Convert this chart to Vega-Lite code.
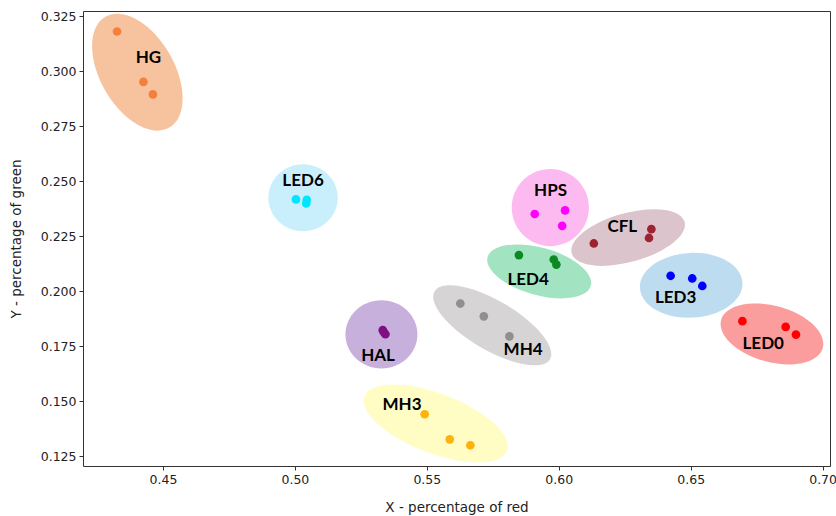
{
  "$schema": "https://vega.github.io/schema/vega-lite/v6.json",
  "autosize": {"type": "none"},
  "padding": {"left": 83, "top": 11, "right": 6, "bottom": 50},
  "width": 747,
  "height": 455,
  "background": "white",
  "config": {
    "view": {"stroke": "#333333", "strokeWidth": 1},
    "axis": {
      "grid": false,
      "domain": false,
      "labelFont": "DejaVu Sans",
      "labelFontSize": 12.5,
      "labelColor": "#222222",
      "titleFont": "DejaVu Sans",
      "titleFontSize": 13.5,
      "titleFontWeight": "normal",
      "titleColor": "#222222",
      "tickColor": "#333333",
      "tickSize": 4,
      "labelPadding": 3
    }
  },
  "datasets": {
    "pts": [
      {"group": "HG", "x": 0.4326, "y": 0.3180},
      {"group": "HG", "x": 0.4426, "y": 0.2951},
      {"group": "HG", "x": 0.4462, "y": 0.2894},
      {"group": "LED6", "x": 0.5004, "y": 0.2417},
      {"group": "LED6", "x": 0.5045, "y": 0.2415},
      {"group": "LED6", "x": 0.5043, "y": 0.2399},
      {"group": "HPS", "x": 0.5909, "y": 0.2351},
      {"group": "HPS", "x": 0.6024, "y": 0.2367},
      {"group": "HPS", "x": 0.6013, "y": 0.2297},
      {"group": "CFL", "x": 0.6133, "y": 0.2217},
      {"group": "CFL", "x": 0.6351, "y": 0.2282},
      {"group": "CFL", "x": 0.6342, "y": 0.2242},
      {"group": "LED4", "x": 0.5849, "y": 0.2164},
      {"group": "LED4", "x": 0.5981, "y": 0.2144},
      {"group": "LED4", "x": 0.5991, "y": 0.2121},
      {"group": "LED3", "x": 0.6424, "y": 0.2070},
      {"group": "LED3", "x": 0.6506, "y": 0.2058},
      {"group": "LED3", "x": 0.6544, "y": 0.2024},
      {"group": "LED0", "x": 0.6696, "y": 0.1864},
      {"group": "LED0", "x": 0.6860, "y": 0.1838},
      {"group": "LED0", "x": 0.6899, "y": 0.1803},
      {"group": "MH4", "x": 0.5627, "y": 0.1944},
      {"group": "MH4", "x": 0.5716, "y": 0.1886},
      {"group": "MH4", "x": 0.5813, "y": 0.1795},
      {"group": "HAL", "x": 0.5333, "y": 0.1823},
      {"group": "HAL", "x": 0.5337, "y": 0.1814},
      {"group": "HAL", "x": 0.5343, "y": 0.1805},
      {"group": "MH3", "x": 0.5492, "y": 0.1441},
      {"group": "MH3", "x": 0.5587, "y": 0.1327},
      {"group": "MH3", "x": 0.5665, "y": 0.1300}
    ],
    "ell": [
      {"group": "HG", "cx": 0.4403, "cy": 0.2995, "lx": 0.4445, "ly": 0.3061},
      {"group": "LED6", "cx": 0.5031, "cy": 0.2425, "lx": 0.5031, "ly": 0.2501},
      {"group": "HPS", "cx": 0.5968, "cy": 0.2380, "lx": 0.5969, "ly": 0.2455},
      {"group": "CFL", "cx": 0.6263, "cy": 0.2244, "lx": 0.6241, "ly": 0.2290},
      {"group": "LED4", "cx": 0.5926, "cy": 0.2090, "lx": 0.5884, "ly": 0.2053},
      {"group": "LED3", "cx": 0.6502, "cy": 0.2027, "lx": 0.6443, "ly": 0.1971},
      {"group": "LED0", "cx": 0.6808, "cy": 0.1806, "lx": 0.6775, "ly": 0.1762},
      {"group": "MH4", "cx": 0.5748, "cy": 0.1845, "lx": 0.5865, "ly": 0.1732},
      {"group": "HAL", "cx": 0.5328, "cy": 0.1804, "lx": 0.5315, "ly": 0.1705},
      {"group": "MH3", "cx": 0.5534, "cy": 0.1399, "lx": 0.5406, "ly": 0.1482}
    ]
  },
  "encoding": {
    "x": {"type": "quantitative", "scale": {"domain": [0.4197, 0.7028], "nice": false, "zero": false},
      "axis": {"title": "X - percentage of red", "values": [0.45, 0.5, 0.55, 0.6, 0.65, 0.7], "format": ".2f", "titlePadding": 15}},
    "y": {"type": "quantitative", "scale": {"domain": [0.1206, 0.3273], "nice": false, "zero": false},
      "axis": {"title": "Y - percentage of green", "values": [0.125, 0.15, 0.175, 0.2, 0.225, 0.25, 0.275, 0.3, 0.325], "format": ".3f", "titlePadding": 17}}
  },
  "layer": [
    {
      "data": {"name": "ell"},
      "encoding": {"x": {"field": "cx", "type": "quantitative"}, "y": {"field": "cy", "type": "quantitative"}},
      "layer": [
        {"transform": [{"filter": "datum.group === 'HG'"}],
         "mark": {"type": "point", "filled": true, "opacity": 1, "fill": "#f7c39f", "strokeWidth": 0, "size": 16384, "angle": 60,
           "shape": "M 1 0 C 1 0.319 0.5523 0.578 0 0.578 C -0.5523 0.578 -1 0.319 -1 0 C -1 -0.319 -0.5523 -0.578 0 -0.578 C 0.5523 -0.578 1 -0.319 1 0 Z"}},
        {"transform": [{"filter": "datum.group === 'LED6'"}],
         "mark": {"type": "point", "filled": true, "opacity": 1, "fill": "#c9effc", "strokeWidth": 0, "size": 4816, "angle": 0,
           "shape": "M 1 0 C 1 0.533 0.5523 0.965 0 0.965 C -0.5523 0.965 -1 0.533 -1 0 C -1 -0.533 -0.5523 -0.965 0 -0.965 C 0.5523 -0.965 1 -0.533 1 0 Z"}},
        {"transform": [{"filter": "datum.group === 'HPS'"}],
         "mark": {"type": "point", "filled": true, "opacity": 1, "fill": "#fdbaf0", "strokeWidth": 0, "size": 5960, "angle": 0,
           "shape": "M 1 0 C 1 0.5523 0.5523 1 0 1 C -0.5523 1 -1 0.5523 -1 0 C -1 -0.5523 -0.5523 -1 0 -1 C 0.5523 -1 1 -0.5523 1 0 Z"}},
        {"transform": [{"filter": "datum.group === 'CFL'"}],
         "mark": {"type": "point", "filled": true, "opacity": 1, "fill": "#dcc4cc", "strokeWidth": 0, "size": 13736, "angle": -15.6,
           "shape": "M 1 0 C 1 0.231 0.5523 0.418 0 0.418 C -0.5523 0.418 -1 0.231 -1 0 C -1 -0.231 -0.5523 -0.418 0 -0.418 C 0.5523 -0.418 1 -0.231 1 0 Z"}},
        {"transform": [{"filter": "datum.group === 'LED4'"}],
         "mark": {"type": "point", "filled": true, "opacity": 1, "fill": "#a2e3c2", "strokeWidth": 0, "size": 11492, "angle": 15.6,
           "shape": "M 1 0 C 1 0.244 0.5523 0.442 0 0.442 C -0.5523 0.442 -1 0.244 -1 0 C -1 -0.244 -0.5523 -0.442 0 -0.442 C 0.5523 -0.442 1 -0.244 1 0 Z"}},
        {"transform": [{"filter": "datum.group === 'LED3'"}],
         "mark": {"type": "point", "filled": true, "opacity": 1, "fill": "#bedcf0", "strokeWidth": 0, "size": 10547, "angle": -3,
           "shape": "M 1 0 C 1 0.348 0.5523 0.63 0 0.63 C -0.5523 0.63 -1 0.348 -1 0 C -1 -0.348 -0.5523 -0.63 0 -0.63 C 0.5523 -0.63 1 -0.348 1 0 Z"}},
        {"transform": [{"filter": "datum.group === 'LED0'"}],
         "mark": {"type": "point", "filled": true, "opacity": 1, "fill": "#fc9d9d", "strokeWidth": 0, "size": 11109, "angle": 15.4,
           "shape": "M 1 0 C 1 0.294 0.5523 0.533 0 0.533 C -0.5523 0.533 -1 0.294 -1 0 C -1 -0.294 -0.5523 -0.533 0 -0.533 C 0.5523 -0.533 1 -0.294 1 0 Z"}},
        {"transform": [{"filter": "datum.group === 'MH4'"}],
         "mark": {"type": "point", "filled": true, "opacity": 1, "fill": "#d6d4d5", "strokeWidth": 0, "size": 17902, "angle": 30.4,
           "shape": "M 1 0 C 1 0.204 0.5523 0.369 0 0.369 C -0.5523 0.369 -1 0.204 -1 0 C -1 -0.204 -0.5523 -0.369 0 -0.369 C 0.5523 -0.369 1 -0.204 1 0 Z"}},
        {"transform": [{"filter": "datum.group === 'HAL'"}],
         "mark": {"type": "point", "filled": true, "opacity": 1, "fill": "#c8b0dc", "strokeWidth": 0, "size": 5184, "angle": 0,
           "shape": "M 1 0 C 1 0.525 0.5523 0.95 0 0.95 C -0.5523 0.95 -1 0.525 -1 0 C -1 -0.525 -0.5523 -0.95 0 -0.95 C 0.5523 -0.95 1 -0.525 1 0 Z"}},
        {"transform": [{"filter": "datum.group === 'MH3'"}],
         "mark": {"type": "point", "filled": true, "opacity": 1, "fill": "#fffcc4", "strokeWidth": 0, "size": 23287, "angle": 21,
           "shape": "M 1 0 C 1 0.216 0.5523 0.39 0 0.39 C -0.5523 0.39 -1 0.216 -1 0 C -1 -0.216 -0.5523 -0.39 0 -0.39 C 0.5523 -0.39 1 -0.216 1 0 Z"}}
      ]
    },
    {
      "data": {"name": "pts"},
      "mark": {"type": "circle", "opacity": 1, "size": 75},
      "encoding": {
        "x": {"field": "x", "type": "quantitative"},
        "y": {"field": "y", "type": "quantitative"},
        "color": {"field": "group", "type": "nominal", "legend": null,
          "scale": {"domain": ["HG", "LED6", "HPS", "CFL", "LED4", "LED3", "LED0", "MH4", "HAL", "MH3"],
                    "range": ["#f57f3e", "#00e5ff", "#ff00ff", "#9e2230", "#0b8a22", "#0000ff", "#ff0000", "#8f8f8f", "#7f0f85", "#ffb30a"]}}
      }
    },
    {
      "data": {"name": "ell"},
      "mark": {"type": "text", "font": "Lato", "fontWeight": "bold", "fontSize": 17, "color": "black", "align": "center", "baseline": "middle"},
      "encoding": {
        "x": {"field": "lx", "type": "quantitative"},
        "y": {"field": "ly", "type": "quantitative"},
        "text": {"field": "group"}
      }
    }
  ]
}
